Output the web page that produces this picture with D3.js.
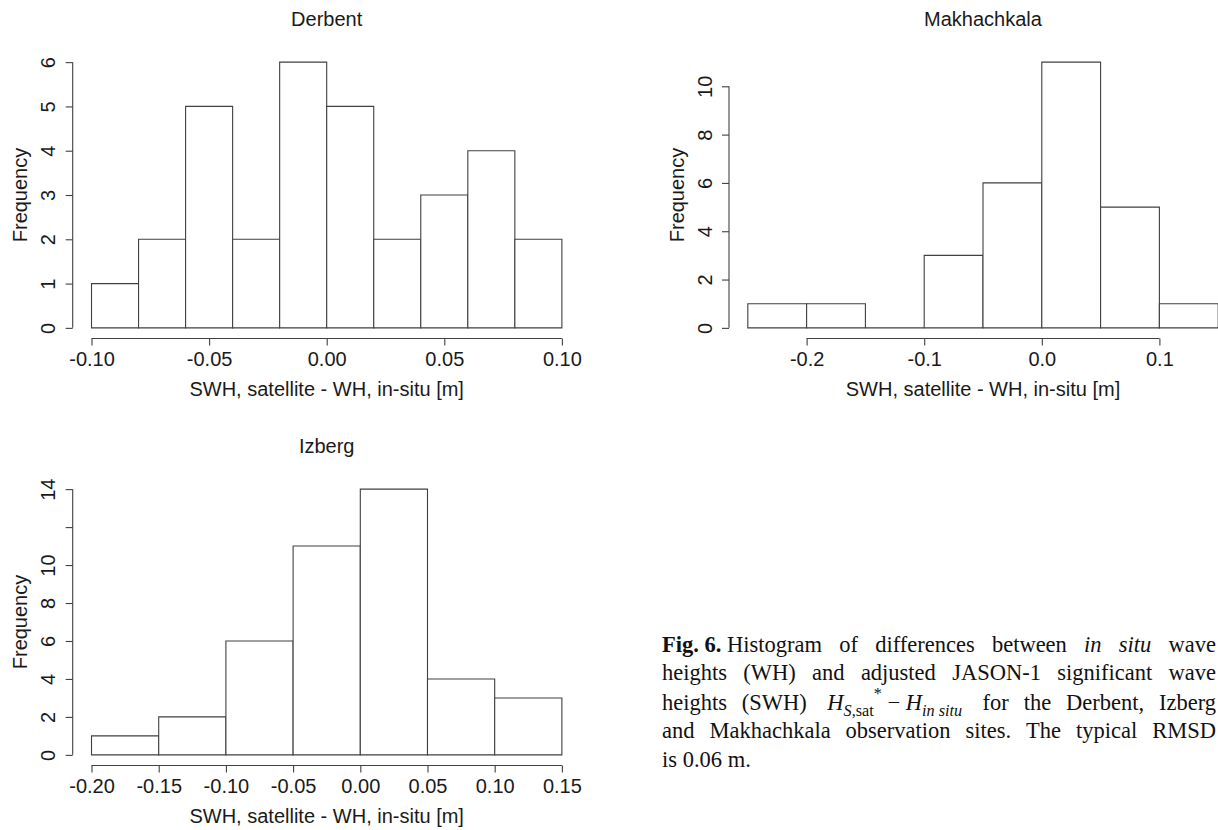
<!DOCTYPE html>
<html>
<head>
<meta charset="utf-8">
<script src="https://cdn.jsdelivr.net/npm/d3@7"></script>
<style>
  body { margin: 0; background: #fff; }
  svg { display: block; }
</style>
</head>
<body>
<svg id="fig" width="1218" height="830"></svg>
<script>
// histogram breaks and counts
const derbentBreaks = [-0.10, -0.08, -0.06, -0.04, -0.02, 0.00, 0.02, 0.04, 0.06, 0.08, 0.10];
const derbentCounts = [1, 2, 5, 2, 6, 5, 2, 3, 4, 2];
const derbentXTicks = [-0.10, -0.05, 0.00, 0.05, 0.10];
const derbentXLabels = ["-0.10", "-0.05", "0.00", "0.05", "0.10"];
const derbentYTicks = [0, 1, 2, 3, 4, 5, 6];
const derbentYLabels = ["0", "1", "2", "3", "4", "5", "6"];

const makhachkalaBreaks = [-0.25, -0.20, -0.15, -0.10, -0.05, 0.00, 0.05, 0.10, 0.15];
const makhachkalaCounts = [1, 1, 0, 3, 6, 11, 5, 1];
const makhachkalaXTicks = [-0.2, -0.1, 0.0, 0.1];
const makhachkalaXLabels = ["-0.2", "-0.1", "0.0", "0.1"];
const makhachkalaYTicks = [0, 2, 4, 6, 8, 10];
const makhachkalaYLabels = ["0", "2", "4", "6", "8", "10"];

const izbergBreaks = [-0.20, -0.15, -0.10, -0.05, 0.00, 0.05, 0.10, 0.15];
const izbergCounts = [1, 2, 6, 11, 14, 4, 3];
const izbergXTicks = [-0.20, -0.15, -0.10, -0.05, 0.00, 0.05, 0.10, 0.15];
const izbergXLabels = ["-0.20", "-0.15", "-0.10", "-0.05", "0.00", "0.05", "0.10", "0.15"];
const izbergYTicks = [0, 2, 4, 6, 8, 10, 12, 14];
const izbergYLabels = ["0", "2", "4", "6", "8", "10", "", "14"]; // R drops the 12

const xTitle = "SWH, satellite - WH, in-situ [m]";
const yTitle = "Frequency";

const panels = [
  { title: "Derbent", breaks: derbentBreaks, counts: derbentCounts, xTicks: derbentXTicks, xLabels: derbentXLabels, yTicks: derbentYTicks, yLabels: derbentYLabels, col: 0, row: 0 },
  { title: "Makhachkala", breaks: makhachkalaBreaks, counts: makhachkalaCounts, xTicks: makhachkalaXTicks, xLabels: makhachkalaXLabels, yTicks: makhachkalaYTicks, yLabels: makhachkalaYLabels, col: 1, row: 0 },
  { title: "Izberg", breaks: izbergBreaks, counts: izbergCounts, xTicks: izbergXTicks, xLabels: izbergXLabels, yTicks: izbergYTicks, yLabels: izbergYLabels, col: 0, row: 1 }
];

// layout of the plot regions (like R's mfrow)
const colLeft = [72.7, 729];
const rowTop = [51.5, 478.5];
const plotW = 508, plotH = 287;

const sans = "'Liberation Sans', Arial, Helvetica, sans-serif";
const serif = "'Liberation Serif', 'Times New Roman', Times, serif";
const ink = "#1a1a1a";
const lineCol = "#404040";

const svg = d3.select("#fig");
svg.append("rect").attr("width", 1218).attr("height", 830).attr("fill", "#fff");

panels.forEach(p => {
  const left = colLeft[p.col], top = rowTop[p.row];
  const lo = p.breaks[0], hi = p.breaks[p.breaks.length - 1];
  const pad = (hi - lo) * 0.04;
  const x = d3.scaleLinear().domain([lo - pad, hi + pad]).range([left, left + plotW]);
  const ymax = d3.max(p.counts);
  const y = d3.scaleLinear().domain([-ymax * 0.04, ymax * 1.04]).range([top + plotH, top]);

  const g = svg.append("g").attr("class", "panel");

  // bars (paths so that zero-height bins still show a line)
  g.selectAll("path.bar")
    .data(p.counts)
    .join("path")
    .attr("class", "bar")
    .attr("d", (c, i) => `M${x(p.breaks[i])},${y(0)}V${y(c)}H${x(p.breaks[i + 1])}V${y(0)}Z`)
    .attr("fill", "#fff")
    .attr("stroke", lineCol)
    .attr("stroke-width", 1.1);

  // x axis
  const gx = g.append("g")
    .attr("transform", `translate(0,${top + plotH})`)
    .call(d3.axisBottom(x).tickValues(p.xTicks).tickFormat((d, i) => p.xLabels[i]).tickSize(7).tickSizeOuter(0));
  gx.select(".domain").remove();
  gx.append("line")
    .attr("x1", x(p.xTicks[0])).attr("x2", x(p.xTicks[p.xTicks.length - 1]))
    .attr("stroke", lineCol).attr("stroke-width", 1.1);
  gx.selectAll(".tick line").attr("stroke", lineCol).attr("stroke-width", 1.1);
  gx.selectAll(".tick text")
    .attr("y", 20.5).attr("dy", "0.35em")
    .attr("fill", ink)
    .style("font-family", sans).style("font-size", "20px");

  // y axis
  const gy = g.append("g")
    .attr("transform", `translate(${left},0)`)
    .call(d3.axisLeft(y).tickValues(p.yTicks).tickFormat((d, i) => p.yLabels[i]).tickSize(7).tickSizeOuter(0));
  gy.select(".domain").remove();
  gy.append("line")
    .attr("y1", y(p.yTicks[0])).attr("y2", y(p.yTicks[p.yTicks.length - 1]))
    .attr("stroke", lineCol).attr("stroke-width", 1.1);
  gy.selectAll(".tick line").attr("stroke", lineCol).attr("stroke-width", 1.1);
  gy.selectAll(".tick text")
    .attr("x", null).attr("dy", "0.35em")
    .attr("transform", "translate(-24.5,0) rotate(-90)")
    .attr("text-anchor", "middle")
    .attr("fill", ink)
    .style("font-family", sans).style("font-size", "20px");

  const cx = left + plotW / 2, cy = top + plotH / 2;

  g.append("text")
    .attr("x", cx).attr("y", top - 33).attr("dy", "0.35em")
    .attr("text-anchor", "middle").attr("fill", ink)
    .style("font-family", sans).style("font-size", "20px")
    .text(p.title);

  g.append("text")
    .attr("x", cx).attr("y", top + plotH + 50.5).attr("dy", "0.35em")
    .attr("text-anchor", "middle").attr("fill", ink)
    .style("font-family", sans).style("font-size", "20px")
    .text(xTitle);

  g.append("text")
    .attr("transform", `translate(${left - 52.5},${cy}) rotate(-90)`)
    .attr("dy", "0.35em")
    .attr("text-anchor", "middle").attr("fill", ink)
    .style("font-family", sans).style("font-size", "20px")
    .text(yTitle);
});

// caption, justified between capLeft and capRight
const capLeft = 662, capRight = 1216, capSize = 22.5;
const capBase = [652, 680, 710, 738, 767];
const mathTerm = [
  { t: " " }, { t: "H", i: 1 }, { t: "S", i: 1, sub: 1 }, { t: ",sat", sub: 1 }, { t: "*", sup: 1 },
  { t: " \u2212 " }, { t: "H", i: 1 }, { t: "in situ", i: 1, sub: 1 }, { t: " " }
];
const captionLines = [
  [[{ t: "Fig. 6. ", b: 1 }, { t: "Histogram" }], "of", "differences", "between", [{ t: "in", i: 1 }], [{ t: "situ", i: 1 }], "wave"],
  ["heights", "(WH)", "and", "adjusted", "JASON-1", "significant", "wave"],
  ["heights", "(SWH)", mathTerm, "for", "the", "Derbent,", "Izberg"],
  ["and", "Makhachkala", "observation", "sites.", "The", "typical", "RMSD"],
  ["is", "0.06", "m."]
];

const cap = svg.append("g").attr("class", "caption")
  .style("font-family", serif).style("font-size", capSize + "px").attr("fill", "#111");

captionLines.forEach((words, li) => {
  const nodes = words.map(w => {
    const spans = typeof w === "string" ? [{ t: w }] : w;
    const txt = cap.append("text").attr("y", capBase[li]).attr("xml:space", "preserve");
    let shift = 0;
    spans.forEach(s => {
      const target = s.sub ? 6 : s.sup ? -11 : 0;
      const ts = txt.append("tspan").text(s.t).attr("dy", target - shift);
      shift = target;
      if (s.i) ts.attr("font-style", "italic");
      if (s.b) ts.attr("font-weight", "bold");
      if (s.sub || s.sup) ts.style("font-size", (capSize * 0.72) + "px");
    });
    return txt;
  });
  const widths = nodes.map(n => n.node().getComputedTextLength());
  const total = d3.sum(widths);
  const last = li === captionLines.length - 1;
  const gap = last ? capSize * 0.25 : (capRight - capLeft - total) / (nodes.length - 1);
  let xpos = capLeft;
  nodes.forEach((n, k) => {
    n.attr("x", xpos);
    xpos += widths[k] + gap;
  });
});
</script>
</body>
</html>
